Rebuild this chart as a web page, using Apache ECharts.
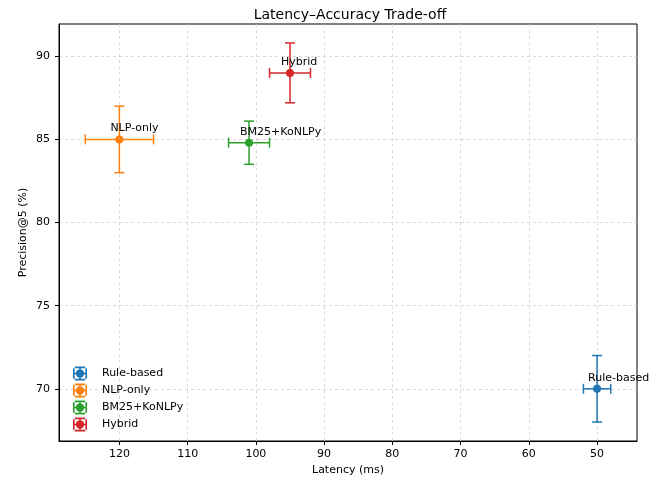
<!DOCTYPE html>
<html>
<head>
<meta charset="utf-8">
<script src="https://cdn.jsdelivr.net/npm/echarts@6/dist/echarts.min.js"></script>
<style>html,body{margin:0;padding:0;background:#fff}#c{width:661px;height:479px}</style>
</head>
<body>
<div id="c"></div>
<script>
const methods = ['Rule-based', 'NLP-only', 'BM25+KoNLPy', 'Hybrid'];
const latency = [50, 120, 101, 95];
const latencyErr = [2, 5, 3, 3];
const precision = [70, 85, 84.8, 89];
const precisionErr = [2, 2, 1.3, 1.8];
const colors = ['#1f77b4', '#ff7f0e', '#2ca02c', '#d62728'];
const xTicks = [50, 60, 70, 80, 90, 100, 110, 120];
const yTicks = [70, 75, 80, 85, 90];

const FONT = 'DejaVu Sans';
const FS = 11;
const chart = echarts.init(document.getElementById('c'), null, {renderer: 'canvas'});

const legendIcon = 'path://M1,6.3h12v1.4h-12z M6.3,1h1.4v12h-1.4z M1,2.5h1.4v9h-1.4z M11.6,2.5h1.4v9h-1.4z M2.5,1h9v1.4h-9z M2.5,11.6h9v1.4h-9z M7,3.4a3.6,3.6 0 1,1 -0.001,0z';

const series = [];
methods.forEach((name, i) => {
  const color = colors[i];
  series.push({
    type: 'custom',
    name: name,
    z: 2,
    color: color,
    data: [[latency[i], precision[i], latencyErr[i], precisionErr[i]]],
    renderItem: function (params, api) {
      const x = api.value(0), y = api.value(1), xe = api.value(2), ye = api.value(3);
      const c = api.coord([x, y]);
      const l = api.coord([x - xe, y]), r = api.coord([x + xe, y]);
      const t = api.coord([x, y + ye]), b = api.coord([x, y - ye]);
      const cap = 5;
      const st = {stroke: color, lineWidth: 1.5};
      const line = (x1, y1, x2, y2) => ({type: 'line', shape: {x1, y1, x2, y2}, style: st});
      return {
        type: 'group',
        children: [
          line(l[0], l[1], r[0], r[1]),
          line(t[0], t[1], b[0], b[1]),
          line(l[0], l[1] - cap, l[0], l[1] + cap),
          line(r[0], r[1] - cap, r[0], r[1] + cap),
          line(t[0] - cap, t[1], t[0] + cap, t[1]),
          line(b[0] - cap, b[1], b[0] + cap, b[1]),
          {type: 'text', z2: 10, x: c[0] - 9, y: c[1] - 11,
           style: {text: name, fill: '#000', font: FS + 'px "' + FONT + '"', align: 'left', verticalAlign: 'middle'}}
        ]
      };
    }
  });
  series.push({
    type: 'scatter',
    name: name,
    z: 3,
    symbol: 'circle',
    symbolSize: 8,
    itemStyle: {color: color, opacity: 1},
    data: [[latency[i], precision[i]]]
  });
});

chart.setOption({
  animation: false,
  backgroundColor: '#fff',
  color: colors,
  textStyle: {fontFamily: FONT},
  title: {
    text: 'Latency\u2013Accuracy Trade-off',
    left: 345, top: 3, textAlign: 'center',
    textStyle: {fontFamily: FONT, fontSize: 14, fontWeight: 'normal', color: '#000'}
  },
  legend: {
    orient: 'vertical',
    left: 68, top: 361.5,
    itemWidth: 14, itemHeight: 14, itemGap: 3,
    textStyle: {fontFamily: FONT, fontSize: FS, color: '#000', padding: [0, 0, 0, 10]},
    data: methods.map((m, i) => ({name: m, icon: legendIcon, itemStyle: {color: colors[i], opacity: 1}}))
  },
  grid: {
    left: 59, right: 24, top: 24, bottom: 38,
    outerBoundsMode: 'none', containLabel: false,
    show: true, borderColor: '#000', borderWidth: 1, backgroundColor: 'transparent'
  },
  xAxis: {
    type: 'value', inverse: true, min: 44.15, max: 128.85,
    name: 'Latency (ms)', nameLocation: 'middle', nameGap: 23.5, nameMoveOverlap: false,
    nameTextStyle: {fontFamily: FONT, fontSize: FS, color: '#000'},
    axisLine: {show: true, lineStyle: {color: '#000', width: 1}},
    axisTick: {show: true, inside: false, length: 4, customValues: xTicks, lineStyle: {color: '#000'}},
    axisLabel: {customValues: xTicks, fontFamily: FONT, fontSize: FS, color: '#000', margin: 8},
    splitLine: {show: true, lineStyle: {color: '#d0d0d0', type: [3, 3], width: 0.8}}
  },
  yAxis: {
    type: 'value', min: 66.86, max: 91.94,
    name: 'Precision@5 (%)', nameLocation: 'middle', nameGap: 30, nameRotate: 90, nameMoveOverlap: false,
    nameTextStyle: {fontFamily: FONT, fontSize: FS, color: '#000'},
    axisLine: {show: true, lineStyle: {color: '#000', width: 1}},
    axisTick: {show: true, inside: false, length: 4, customValues: yTicks, lineStyle: {color: '#000'}},
    axisLabel: {customValues: yTicks, fontFamily: FONT, fontSize: FS, color: '#000', margin: 9},
    splitLine: {show: true, lineStyle: {color: '#d0d0d0', type: [3, 3], width: 0.8}}
  },
  series: series
});
</script>
</body>
</html>
